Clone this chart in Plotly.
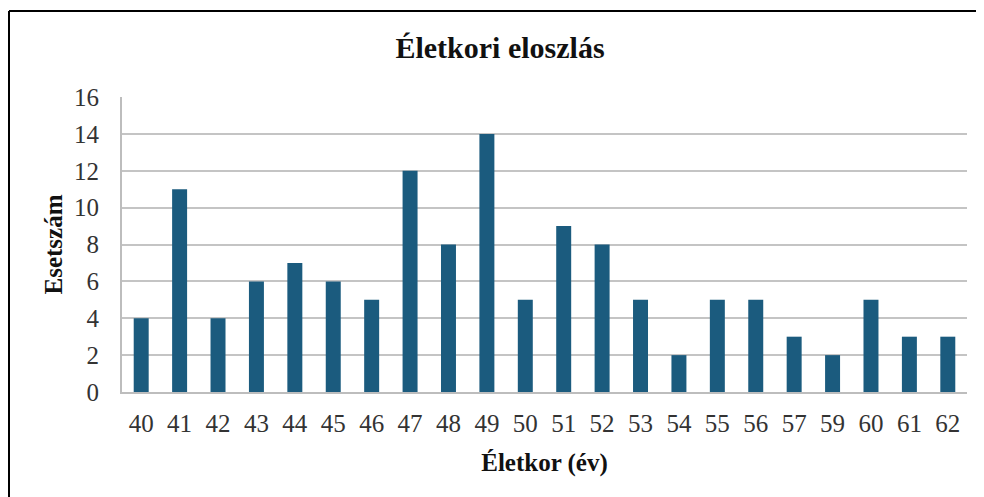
import plotly.graph_objects as go

ages = ["40", "41", "42", "43", "44", "45", "46", "47", "48", "49", "50",
        "51", "52", "53", "54", "55", "56", "57", "59", "60", "61", "62"]
counts = [4, 11, 4, 6, 7, 6, 5, 12, 8, 14, 5, 9, 8, 5, 2, 5, 5, 3, 2, 5, 3, 3]
y_ticks = [0, 2, 4, 6, 8, 10, 12, 14, 16]

# page body has an 8px margin; lay out in page pixels minus that offset
OFF = 8
W, H = 984 - OFF, 497 - OFF
ml, mt = 122 - OFF, 97 - OFF
plot_right, plot_bottom = 967 - OFF, 392 - OFF
mr, mb = W - plot_right, H - plot_bottom
pw, ph = plot_right - ml, plot_bottom - mt

def px_to_paper_x(px):
    return (px - OFF - ml) / pw

def px_to_paper_y(py):
    return (plot_bottom - (py - OFF)) / ph

font = "Liberation Serif, Times New Roman, serif"

fig = go.Figure(go.Bar(
    x=ages, y=counts,
    marker=dict(color="#1b5b7e", line=dict(width=0)),
))

fig.update_layout(
    width=W, height=H,
    margin=dict(l=ml, r=mr, t=mt, b=mb),
    paper_bgcolor="white", plot_bgcolor="white",
    bargap=0.61,
    showlegend=False,
    title=dict(text="<b>Életkori eloszlás</b>", x=px_to_paper_x(500), xref="paper",
               xanchor="center", y=1 - (47 - OFF) / H, yanchor="middle",
               font=dict(family=font, size=30, color="#111")),
    font=dict(family=font, size=25, color="#333"),
    xaxis=dict(
        type="category",
        showgrid=False,
        showline=True, linecolor="#bdbdbd", linewidth=2,
        ticks="", ticklabelstandoff=8,
        tickfont=dict(family=font, size=25, color="#333"),
        title=dict(text="<b>Életkor (év)</b>", standoff=17,
                   font=dict(family=font, size=25, color="#111")),
    ),
    yaxis=dict(
        range=[0, 16], tickvals=y_ticks,
        showgrid=True, gridcolor="#c4c4c4", gridwidth=2,
        showline=True, linecolor="#bdbdbd", linewidth=2,
        zeroline=False,
        ticks="", ticklabelstandoff=16,
        tickfont=dict(family=font, size=25, color="#333"),
        title=dict(text="<b>Esetszám</b>", standoff=4,
                   font=dict(family=font, size=25, color="#111")),
    ),
    shapes=[
        dict(type="line", xref="paper", yref="paper",
             x0=px_to_paper_x(9), x1=px_to_paper_x(990),
             y0=px_to_paper_y(11), y1=px_to_paper_y(11),
             line=dict(color="black", width=2)),
        dict(type="line", xref="paper", yref="paper",
             x0=px_to_paper_x(9), x1=px_to_paper_x(9),
             y0=px_to_paper_y(11), y1=px_to_paper_y(505),
             line=dict(color="black", width=2)),
    ],
)

fig.write_html("out.html")
